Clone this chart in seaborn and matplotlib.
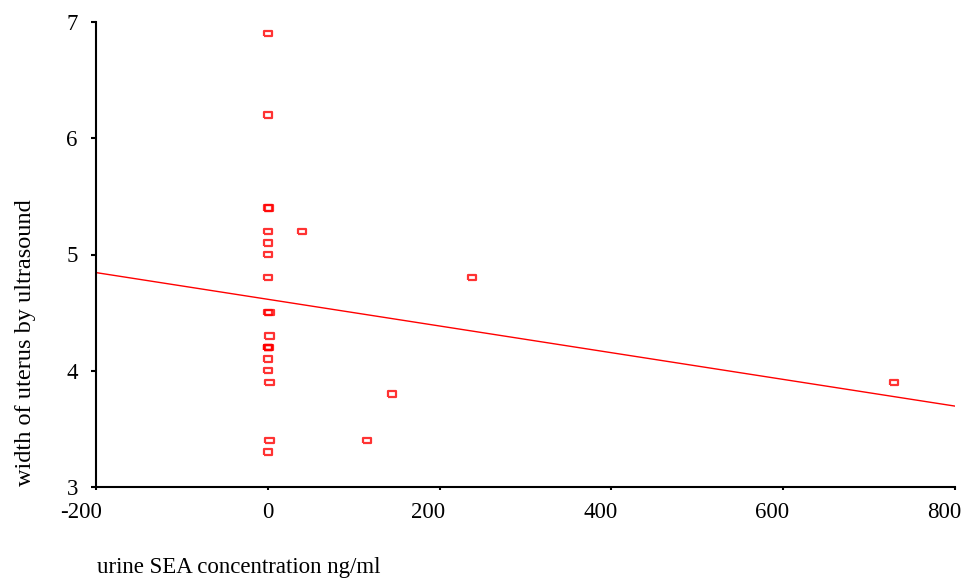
import numpy as np
import pandas as pd
import matplotlib
matplotlib.use("Agg")
import matplotlib.pyplot as plt
import matplotlib.transforms as mtransforms
import seaborn as sns

# urine SEA concentration (ng/ml) and uterine width (cm) per patient
sea_conc = [0, 0, 0, 1, 40, 0, 0, 0, 0, 238, 0, 2, 2, 0, 1, 0, 0, 0, 2,
            145, 116, 2, 0, 729, 0]
uterus_width = [6.9, 6.2, 5.4, 5.4, 5.2, 5.2, 5.1, 5.0, 4.8, 4.8, 4.5, 4.5,
                4.3, 4.2, 4.2, 4.2, 4.1, 4.0, 3.9, 3.8, 3.4, 3.4, 3.3, 3.9, 4.2]

x_ticks = [-200, 0, 200, 400, 600, 800]
y_ticks = [3, 4, 5, 6, 7]

df = pd.DataFrame({"sea": sea_conc, "width": uterus_width})

sns.set_theme(style="white")
plt.rcParams["font.family"] = ["Liberation Serif", "DejaVu Serif"]

fig = plt.figure(figsize=(9.67, 5.82), dpi=100)
ax = fig.add_axes([96 / 967, 1 - 487 / 582, (955 - 96) / 967, (487 - 22) / 582])
ax.set_xlim(-200, 800)
ax.set_ylim(3, 7)

# open rectangular marker, wider than tall
rect = [(-1.5, -1), (1.5, -1), (1.5, 1), (-1.5, 1), (-1.5, -1)]

sns.regplot(data=df, x="sea", y="width", ax=ax, ci=None, truncate=False,
            marker=rect,
            scatter_kws=dict(s=34, facecolors="none", edgecolors="#ff0000",
                             linewidths=1.6, color="#ff0000"),
            line_kws=dict(color="#ff0000", lw=1.0))

ax.set_xticks(x_ticks)
ax.set_yticks(y_ticks)
ax.set_xticklabels([str(v) for v in x_ticks])
ax.set_yticklabels([str(v) for v in y_ticks])
ax.set_xlabel("")
ax.set_ylabel("")

for side in ("top", "right"):
    ax.spines[side].set_visible(False)
for side in ("left", "bottom"):
    ax.spines[side].set_color("black")
    ax.spines[side].set_linewidth(1.5)

ax.tick_params(axis="y", left=True, direction="out", length=3.6, width=1.5,
               pad=9.5, labelsize=16.5, colors="black")
ax.tick_params(axis="x", bottom=True, direction="out", length=2.5, width=1.5,
               pad=8, labelsize=16.5, colors="black")

# x tick labels sit right-aligned just past their ticks
shift = mtransforms.ScaledTranslation(6 / 100, 0, fig.dpi_scale_trans)
for lab in ax.get_xticklabels():
    lab.set_horizontalalignment("right")
    lab.set_transform(lab.get_transform() + shift)

fig.text(26 / 967, 1 - 343 / 582, "width of uterus by ultrasound",
         rotation=90, ha="center", va="center", fontsize=17.5, color="black")
fig.text(97 / 967, 1 - 568 / 582, "urine SEA concentration ng/ml",
         ha="left", va="center", fontsize=16.5, color="black")

fig.savefig("out.png", dpi=100, facecolor="white")
